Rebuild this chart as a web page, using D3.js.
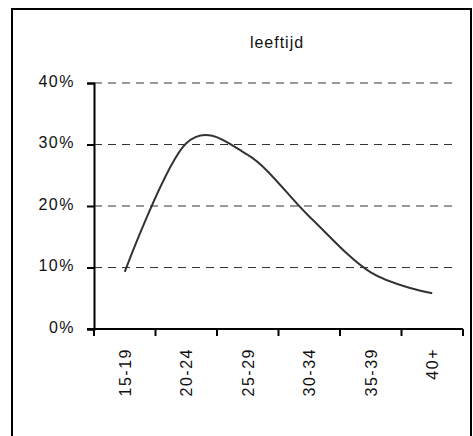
<!DOCTYPE html>
<html>
<head>
<meta charset="utf-8">
<script src="https://cdn.jsdelivr.net/npm/d3@7"></script>
<style>
  body { margin: 0; background: #fff; }
  text { font-family: "Liberation Sans", Arial, sans-serif; fill: #111; }
</style>
</head>
<body>
<div id="root"></div>
<script>
// data
const categories = ['15-19', '20-24', '25-29', '30-34', '35-39', '40+'];
const shares = [0.093, 0.302, 0.283, 0.183, 0.092, 0.058];
const yTicks = [0, 0.1, 0.2, 0.3, 0.4];
const title = 'leeftijd';

const width = 473, height = 436;

const svg = d3.select('#root').append('svg')
  .attr('width', width)
  .attr('height', height)
  .attr('viewBox', [0, 0, width, height]);

// outer frame
svg.append('rect')
  .attr('x', 12).attr('y', 9)
  .attr('width', 459).attr('height', 440)
  .attr('fill', 'none')
  .attr('stroke', '#000')
  .attr('stroke-width', 2);

const x = d3.scaleBand().domain(categories).range([94, 463]);
const y = d3.scaleLinear().domain([0, 0.4]).range([329, 83]);

// title
svg.append('text')
  .attr('x', 277).attr('y', 48)
  .attr('text-anchor', 'middle')
  .attr('font-size', 16)
  .attr('letter-spacing', 1)
  .text(title);

// dashed gridlines
svg.append('g')
  .selectAll('line')
  .data(yTicks.filter(d => d > 0))
  .join('line')
  .attr('x1', 94).attr('x2', 458)
  .attr('y1', d => y(d)).attr('y2', d => y(d))
  .attr('stroke', '#333')
  .attr('stroke-width', 1)
  .attr('stroke-dasharray', '8,6');

// y axis
const yAxis = svg.append('g')
  .attr('transform', 'translate(94,0)')
  .call(d3.axisLeft(y).tickValues(yTicks).tickFormat(d3.format('.0%')).tickSize(7).tickPadding(12));
yAxis.select('.domain').attr('stroke', '#000').attr('stroke-width', 2);
yAxis.selectAll('.tick line').attr('stroke', '#000').attr('stroke-width', 2);
yAxis.selectAll('text')
  .attr('font-size', 16)
  .attr('letter-spacing', 1.5)
  .attr('dy', '0.2em')
  .attr('fill', '#111')
  .style('font-family', '"Liberation Sans", Arial, sans-serif');

// x axis: ticks at category boundaries
const bounds = categories.map(c => x(c)).concat([x.range()[1]]);
svg.append('line')
  .attr('x1', 87).attr('x2', 463)
  .attr('y1', y(0)).attr('y2', y(0))
  .attr('stroke', '#000').attr('stroke-width', 2);
svg.append('g')
  .selectAll('line')
  .data(bounds)
  .join('line')
  .attr('x1', d => d).attr('x2', d => d)
  .attr('y1', y(0)).attr('y2', y(0) + 7)
  .attr('stroke', '#000').attr('stroke-width', 2);

svg.append('g')
  .selectAll('text')
  .data(categories)
  .join('text')
  .attr('transform', d => `translate(${x(d) + x.bandwidth() / 2 + 6},348) rotate(-90)`)
  .attr('text-anchor', 'end')
  .attr('font-size', 16)
  .attr('letter-spacing', 1.5)
  .text(d => d);

// smoothed line
const line = d3.line()
  .x((d, i) => x(categories[i]) + x.bandwidth() / 2)
  .y(d => y(d))
  .curve(d3.curveCardinal.tension(0));

svg.append('path')
  .datum(shares)
  .attr('d', line)
  .attr('fill', 'none')
  .attr('stroke', '#333')
  .attr('stroke-width', 2);
</script>
</body>
</html>
